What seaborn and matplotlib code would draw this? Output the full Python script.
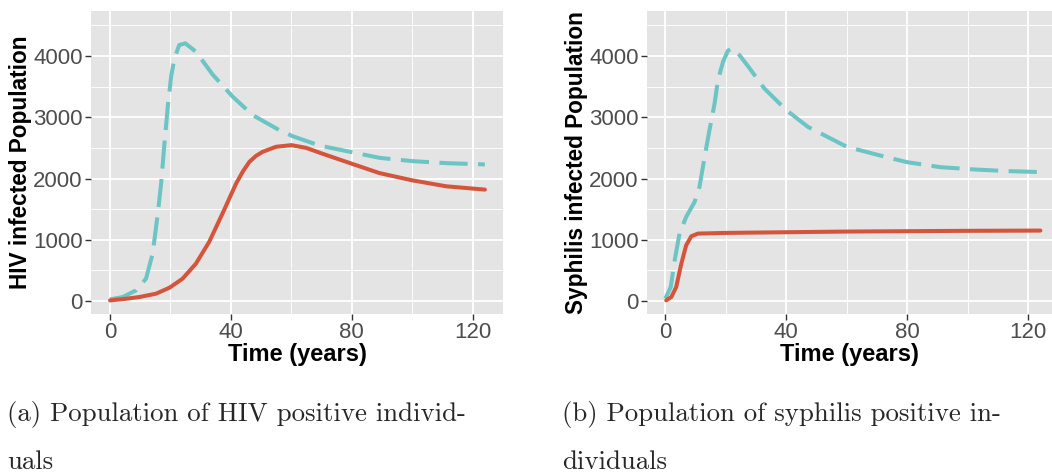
import numpy as np
import pandas as pd
import matplotlib
matplotlib.use("Agg")
import matplotlib.pyplot as plt
import seaborn as sns
from matplotlib.ticker import MultipleLocator

# ---- data ----
hiv_red_t = [0, 5, 9.7, 15.2, 19.7, 24, 28.4, 32.8, 37.2, 41.7, 44, 46.1, 48.3, 50.5, 54.9, 60, 64.9, 70.4, 80, 89.1, 100, 111.2, 124]
hiv_red_v = [10, 35, 65, 120, 218, 365, 610, 965, 1428, 1918, 2120, 2272, 2370, 2436, 2518, 2545, 2500, 2403, 2241, 2089, 1970, 1873, 1819]

hiv_teal_t = [0, 4.2, 8.6, 11.9, 14.1, 15.8, 16.9, 18.0, 19.2, 20.2, 21.3, 22.9, 24.9, 28.4, 33.9, 40.6, 47.2, 56, 60.5, 69.3, 80, 89.1, 100, 111.2, 124]
hiv_teal_v = [27, 65, 174, 365, 774, 1428, 1918, 2572, 3226, 3662, 3962, 4180, 4207, 4071, 3700, 3335, 3035, 2790, 2689, 2538, 2430, 2338, 2284, 2251, 2230]

syph_red_t = [0.3, 2, 3.6, 5.3, 6.9, 8.6, 10.8, 20, 40, 60, 80, 100, 124]
syph_red_v = [11, 65, 229, 610, 910, 1057, 1101, 1112, 1123, 1134, 1140, 1146, 1150]

syph_teal_t = [0, 1.8, 3.1, 4.7, 6.9, 9.7, 11.3, 13, 14.6, 16.3, 17.4, 19.1, 20.7, 22, 24.5, 27.3, 32.7, 40, 47.1, 60, 71, 79.8, 90.8, 101.7, 112.7, 124]
syph_teal_v = [38, 229, 665, 1101, 1373, 1619, 1864, 2354, 2790, 3226, 3608, 3907, 4087, 4125, 4016, 3837, 3472, 3117, 2845, 2518, 2376, 2268, 2186, 2149, 2122, 2105]

x_ticks = [0, 40, 80, 120]
y_ticks = [0, 1000, 2000, 3000, 4000]
x_label = "Time (years)"
y_labels = ["HIV infected Population", "Syphilis infected Population"]
captions = [("(a) Population of HIV positive individ-", "uals"),
            ("(b) Population of syphilis positive in-", "dividuals")]

RED = "#D4553B"
TEAL = "#6CC4C4"

sns.set_theme(style="darkgrid", rc={
    "axes.facecolor": "#E4E4E4",
    "grid.color": "white",
    "axes.edgecolor": "none",
})
plt.rcParams["font.family"] = ["Liberation Sans", "DejaVu Sans"]

fig = plt.figure(figsize=(10.52, 4.73), dpi=100)
ax1 = fig.add_axes([91/1052, 1-314/473, (503-91)/1052, (314-11)/473])
ax2 = fig.add_axes([647/1052, 1-314/473, (1052-647)/1052, (314-11)/473])

def build(rt, rv, tt, tv):
    d1 = pd.DataFrame({"t": rt, "v": rv, "s": "red"})
    d2 = pd.DataFrame({"t": tt, "v": tv, "s": "teal"})
    return pd.concat([d1, d2], ignore_index=True)

panels = [
    (ax1, build(hiv_red_t, hiv_red_v, hiv_teal_t, hiv_teal_v), y_labels[0]),
    (ax2, build(syph_red_t, syph_red_v, syph_teal_t, syph_teal_v), y_labels[1]),
]

for ax, df, ylab in panels:
    sns.lineplot(data=df[df.s == "teal"], x="t", y="v", ax=ax, color=TEAL,
                 lw=2.9, legend=False, sort=False)
    ax.lines[-1].set_dashes([7, 2.6])
    sns.lineplot(data=df[df.s == "red"], x="t", y="v", ax=ax, color=RED,
                 lw=2.9, legend=False, sort=False)
    ax.set_ylim(-212, 4735)
    ax.set_xticks(x_ticks)
    ax.set_yticks(y_ticks)
    ax.xaxis.set_minor_locator(MultipleLocator(20))
    ax.yaxis.set_minor_locator(MultipleLocator(500))
    ax.grid(which="major", color="white", lw=1.3)
    ax.grid(which="minor", color="white", lw=0.65)
    ax.tick_params(which="major", length=4, width=1, color="#333333",
                   labelsize=16, labelcolor="#4D4D4D", pad=2, bottom=True, left=True)
    ax.tick_params(which="minor", length=0)
    ax.set_xlabel(x_label, fontsize=17, fontweight="bold", color="black", labelpad=0)
    ax.set_ylabel(ylab, fontsize=16.3, fontweight="bold", color="black", labelpad=1)
    for s in ax.spines.values():
        s.set_visible(False)

ax1.set_xlim(-6.3, 130.0)
px_per = (1028.3 - 665.3) / 120
ax2.set_xlim((647 - 665.3) / px_per, (1052 - 665.3) / px_per)

cap_font = dict(fontsize=19.3, family=["cmr10", "DejaVu Serif"], va="baseline", ha="left")
for (l1, l2), x0 in zip(captions, [7, 562]):
    fig.text(x0/1052, 1-421/473, l1, **cap_font)
    fig.text(x0/1052, 1-469/473, l2, **cap_font)

fig.savefig("out.png", dpi=100, facecolor="white")
